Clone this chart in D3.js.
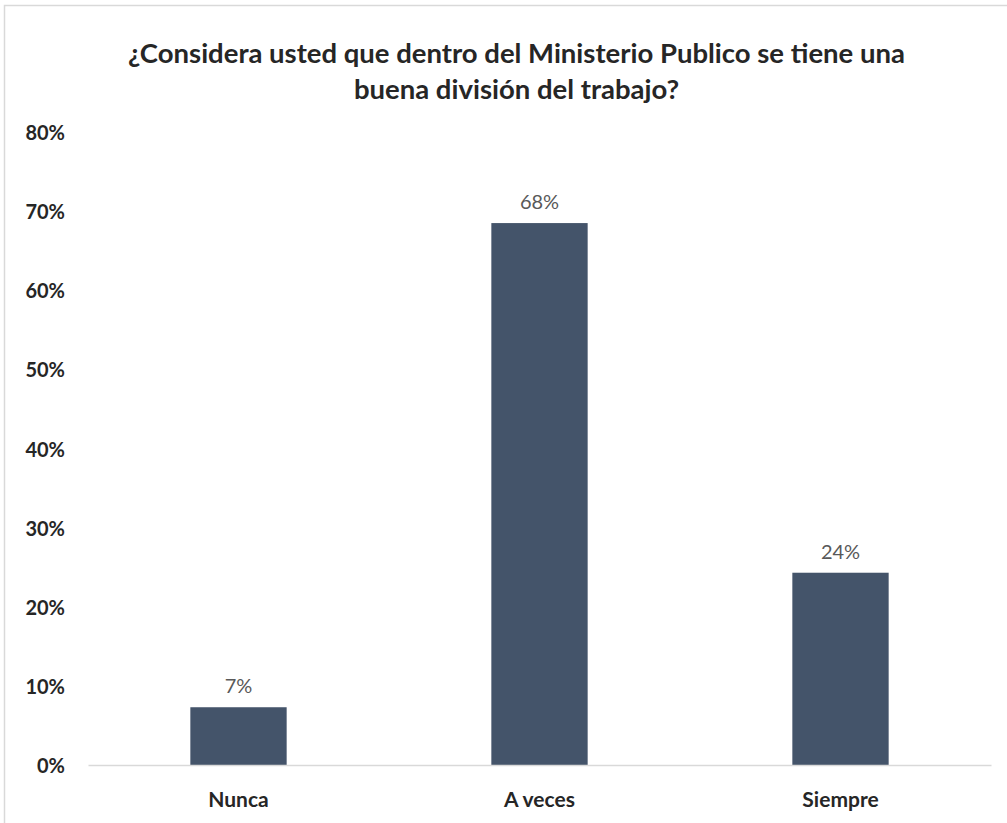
<!DOCTYPE html>
<html>
<head>
<meta charset="utf-8">
<script src="https://cdn.jsdelivr.net/npm/d3@7"></script>
<style>
  html, body { margin: 0; padding: 0; background: #fff; }
  svg { display: block; font-family: Lato, "Open Sans", sans-serif; }
</style>
</head>
<body>
<svg id="chart" width="1007" height="823"></svg>
<script>
// Survey answers and their shares
const categories = ["Nunca", "A veces", "Siempre"];
const shares = [0.073, 0.6849, 0.243];
const yTicks = [0, 0.1, 0.2, 0.3, 0.4, 0.5, 0.6, 0.7, 0.8];
const titleLines = [
  "¿Considera usted que dentro del Ministerio Publico se tiene una",
  "buena división del trabajo?"
];

const svg = d3.select("#chart");
const W = 1007, H = 823;

// chart frame
svg.append("rect")
  .attr("x", 4.5).attr("y", 5.5)
  .attr("width", W + 20).attr("height", H + 20)
  .attr("fill", "#fff").attr("stroke", "#d9d9d9").attr("stroke-width", 1.5);

const x = d3.scaleBand()
  .domain(categories)
  .range([88, 991])
  .paddingInner(0.68)
  .paddingOuter(0.34);

const y = d3.scaleLinear()
  .domain([0, 0.8])
  .range([765, 132]);

// title, sized so the first line spans its measured width
const title = svg.append("g").attr("font-weight", 700).attr("fill", "#262626");
const t1 = title.append("text")
  .attr("x", 516.5).attr("y", 52)
  .attr("text-anchor", "middle").attr("dominant-baseline", "central")
  .attr("font-size", 100)
  .text(titleLines[0]);
const titleSize = 100 * 777 / t1.node().getComputedTextLength();
t1.attr("font-size", titleSize);
title.append("text")
  .attr("x", 516.5).attr("y", 88)
  .attr("text-anchor", "middle").attr("dominant-baseline", "central")
  .attr("font-size", titleSize)
  .text(titleLines[1]);

// y axis labels only (no line, no ticks)
const yAxis = svg.append("g")
  .attr("transform", "translate(65,0)")
  .call(d3.axisLeft(y).tickValues(yTicks).tickFormat(d3.format(".0%")).tickSize(0).tickPadding(0));
yAxis.select(".domain").remove();
yAxis.selectAll("text")
  .attr("font-family", "Lato, 'Open Sans', sans-serif")
  .attr("font-size", 20).attr("font-weight", 700).attr("fill", "#262626")
  .attr("dy", "0.38em");

// bars
svg.append("g").selectAll("rect")
  .data(categories)
  .join("rect")
  .attr("x", d => x(d))
  .attr("width", x.bandwidth())
  .attr("y", (d, i) => y(shares[i]))
  .attr("height", (d, i) => y(0) - y(shares[i]))
  .attr("fill", "#44546a");

// value labels
svg.append("g").selectAll("text")
  .data(categories)
  .join("text")
  .attr("x", d => x(d) + x.bandwidth() / 2)
  .attr("y", (d, i) => y(shares[i]) - 22)
  .attr("text-anchor", "middle").attr("dominant-baseline", "central")
  .attr("font-size", 20).attr("fill", "#595959")
  .text((d, i) => d3.format(".0%")(shares[i]));

// x axis baseline and category labels
const xAxis = svg.append("g")
  .attr("transform", "translate(0,765)")
  .call(d3.axisBottom(x).tickSize(0).tickPadding(0));
xAxis.select(".domain").attr("stroke", "#d9d9d9").attr("stroke-width", 1.5);
xAxis.selectAll("text")
  .attr("font-family", "Lato, 'Open Sans', sans-serif")
  .attr("font-size", 21).attr("font-weight", 700).attr("fill", "#262626")
  .attr("y", 35).attr("dy", "0.35em");
</script>
</body>
</html>
